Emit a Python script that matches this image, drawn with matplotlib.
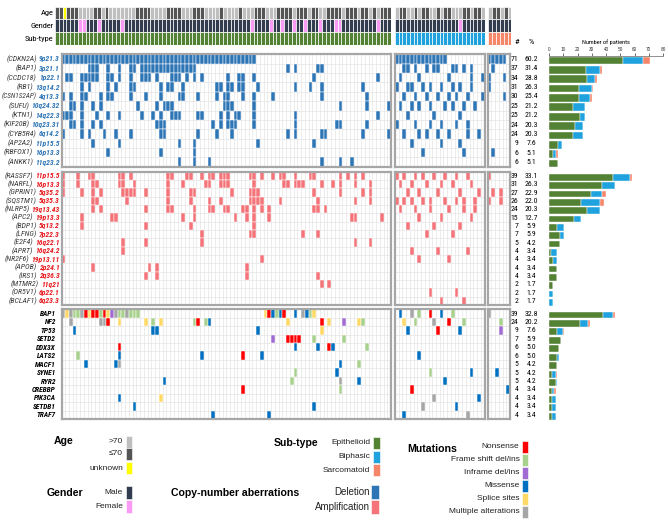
import matplotlib
matplotlib.use('Agg')
import matplotlib.pyplot as plt
from matplotlib import font_manager
from matplotlib.patches import Rectangle

# ------------------------------------------------------------------ fonts
_fl = font_manager.fontManager.ttflist
_names = {f.name for f in _fl}
SANS = 'Liberation Sans'
NARROW_KW = None
for cand in ['Liberation Sans Narrow', 'Arial Narrow', 'DejaVu Sans Condensed',
             'Roboto Condensed', 'Noto Sans Condensed', 'Open Sans Condensed']:
    if cand in _names:
        NARROW_KW = dict(family=cand)
        break
if NARROW_KW is None:
    for fam in ['Noto Sans', 'Open Sans', 'DejaVu Sans', 'Roboto']:
        if any(f.name == fam and str(f.stretch) in ('condensed', 'semi-condensed', '75', '87')
               for f in _fl):
            NARROW_KW = dict(family=fam, fontstretch='condensed')
            break
NSCALE = 1.0
if NARROW_KW is None:
    NARROW_KW = dict(family=SANS)
    NSCALE = 0.86
plt.rcParams['font.family'] = [SANS, 'DejaVu Sans']


def nk(size, **kw):
    d = dict(NARROW_KW)
    d['fontsize'] = size * NSCALE
    d.update(kw)
    return d


# ------------------------------------------------------------------ data
groups = ['Epithelioid', 'Biphasic', 'Sarcomatoid']
n_patients = [88, 24, 6]

# Age: D = <=70, L = >70, U = unknown
age_epi = ("DDUDDDLLLL" "DDLDLLLLLL" "LDDDDLLLLD" "DDDLLLDDDL" "LLLDLLLLDL"
           "LLDDDLLLDD" "DDLDDDLDDL" "LDDDDLDDDL" "DDLDLDDD")
age_bip = "LDDLLDLDDLLDLDDLLLDDLDDL"
age_sar = "LDDLDL"
female_epi = [6, 7, 11, 17, 51, 56, 59, 62, 65, 69, 73, 74, 84]
female_bip = [17]
female_sar = []

# Copy-number deletions
del_genes = ['CDKN2A', 'BAP1', 'CCDC18', 'RB1', 'CSN1S2AP', 'SUFU', 'KTN1', 'KIF20B',
             'CYB5R4', 'AP2A2', 'RBFOX1', 'ANKK1']
del_bands = ['9p21.3', '3p21.1', '1p22.1', '13q14.2', '4q13.3', '10q24.32', '14q22.3',
             '10q23.31', '6q14.2', '11p15.5', '16p13.3', '11q23.2']
del_n = [71, 37, 34, 31, 30, 25, 25, 24, 24, 9, 6, 6]
del_pct = ['60.2', '31.4', '28.8', '26.3', '25.4', '21.2', '21.2', '20.3', '20.3', '7.6', '5.1', '5.1']
del_epi = [
    list(range(0, 52)),
    [7, 8, 9, 12, 15, 18, 19] + list(range(21, 36)) + [60, 62, 68, 69],
    [1, 2, 5, 6, 7, 8, 9, 12, 13, 15, 18, 21, 22, 23, 25, 29, 30, 31, 33, 35, 37, 44, 47, 48, 51, 67, 84],
    [5, 7, 12, 14, 18, 19, 26, 28, 29, 32, 41, 42, 44, 45, 47, 48, 52, 62, 66, 69, 80],
    [0, 2, 5, 6, 10, 12, 13, 18, 22, 26, 31, 32, 36, 41, 43, 44, 48, 51, 56, 69, 81],
    [2, 3, 5, 8, 10, 20, 25, 27, 28, 29, 43, 44, 45, 51, 74, 81, 87],
    [0, 1, 2, 5, 9, 12, 15, 21, 24, 26, 29, 30, 31, 36, 37, 42, 44, 46, 47, 51, 62, 84],
    [2, 3, 5, 8, 10, 25, 26, 27, 40, 42, 44, 45, 46, 51, 62, 73, 74, 81],
    [0, 5, 7, 11, 14, 18, 26, 27, 36, 41, 45, 60, 62, 69, 70, 80, 87],
    [8, 15, 31, 35, 52, 67],
    [12, 26, 35],
    [31, 35, 39, 69, 74, 77],
]
del_bip = [
    list(range(0, 14)),
    [2, 3, 5, 8, 10, 11, 15, 16, 18, 20],
    [1, 6, 14, 20, 23],
    [0, 3, 4, 7, 9, 12, 15, 17, 20],
    [2, 5, 8, 11, 14, 16, 19, 23],
    [1, 4, 6, 9, 13, 15, 18, 21],
    [3, 10, 17],
    [0, 5, 9, 12, 16, 19],
    [2, 6, 8, 11, 14, 19, 22],
    [4, 12, 17],
    [7, 18],
    [],
]
del_sar = [[0, 1, 2, 3, 4], [1], [0, 4], [0], [4], [], [], [], [], [], [1], []]

# Copy-number amplifications
amp_genes = ['RASSF7', 'NARFL', 'GPRIN1', 'SQSTM1', 'NLRP5', 'APC2', 'BDP1', 'LFNG', 'E2F4',
             'APRT', 'NR2F6', 'APOB', 'IRS1', 'MTMR2', 'OR5V1', 'BCLAF1']
amp_bands = ['11p15.5', '16p13.3', '5q35.2', '5q35.3', '19q13.43', '19p13.3', '5q13.2', '7p22.3',
             '16q22.1', '16q24.2', '19p13.11', '2p24.1', '2q36.3', '11q21', '6p22.1', '6q23.3']
amp_n = [39, 31, 27, 26, 24, 15, 7, 7, 5, 4, 4, 4, 4, 2, 2, 2]
amp_pct = ['33.1', '26.3', '22.9', '22.0', '20.3', '12.7', '5.9', '5.9', '4.2', '3.4', '3.4',
           '3.4', '3.4', '1.7', '1.7', '1.7']
amp_epi = [
    [0, 4, 7, 8, 15, 16, 18, 28, 29, 33, 34, 37, 39, 40, 42, 43, 44, 50, 51, 53, 56, 58, 59, 62, 66, 67, 74, 76, 78, 80],
    [0, 4, 8, 9, 15, 16, 19, 28, 32, 38, 39, 42, 43, 44, 51, 59, 60, 62, 63, 64, 69, 72, 74, 78, 82],
    [0, 5, 8, 10, 16, 17, 18, 19, 22, 28, 34, 35, 45, 50, 51, 52, 67, 74, 80, 82],
    [8, 9, 17, 28, 34, 39, 42, 50, 51, 52, 53, 58, 68, 78, 82],
    [8, 10, 22, 28, 29, 35, 39, 40, 43, 44, 48, 49, 51, 53, 55, 67, 68, 70],
    [5, 13, 14, 32, 35, 46, 49, 51, 55, 77, 78, 85],
    [5, 22, 34, 51],
    [37, 50, 51, 64, 68],
    [16, 22, 37, 78, 82],
    [16],
    [0, 53],
    [8, 23, 25, 49],
    [22, 25, 49, 68],
    [69, 71],
    [],
    [],
]
amp_bip = [
    [0, 2, 5, 7, 10, 13, 16, 19],
    [1, 4, 8, 12, 15, 20],
    [3, 6, 11, 17, 22],
    [0, 2, 4, 7, 9, 13, 16, 18, 21],
    [1, 5, 9, 14, 18, 21],
    [6, 12, 20],
    [3, 10, 17],
    [8, 15],
    [],
    [4, 11, 19],
    [6, 14],
    [],
    [],
    [],
    [9, 16],
    [12, 18],
]
amp_sar = [[0], [], [1, 3], [0, 3], [], [], [], [], [], [], [], [], [], [], [], []]

# Mutations: N nonsense, F frame shift, I inframe, M missense, S splice, X multiple
mut_genes = ['BAP1', 'NF2', 'TP53', 'SETD2', 'DDX3X', 'LATS2', 'MACF1', 'SYNE1', 'RYR2',
             'CREBBP', 'PIK3CA', 'SETDB1', 'TRAF7']
mut_n = [39, 24, 9, 7, 6, 6, 5, 5, 5, 4, 4, 4, 4]
mut_pct = ['32.8', '20.2', '7.6', '5.9', '5.0', '5.0', '4.2', '4.2', '4.2', '3.4', '3.4', '3.4', '3.4']
mut_epi = [
    list(zip(range(21), "XSXFFXNSNNFNSIXFFXFFF")) +
    [(54, 'S'), (55, 'N'), (56, 'M'), (57, 'F'), (58, 'M'), (59, 'N'), (62, 'M'), (64, 'X'),
     (65, 'M'), (66, 'F'), (67, 'S')],
    [(2, 'X'), (10, 'X'), (11, 'X'), (12, 'N'), (15, 'S'), (22, 'S'), (24, 'F'), (26, 'S'),
     (35, 'F'), (36, 'N'), (38, 'F'), (39, 'M'), (60, 'S'), (69, 'N'), (71, 'S'), (75, 'I'),
     (79, 'S'), (80, 'F')],
    [(3, 'M'), (24, 'M'), (25, 'M'), (52, 'M'), (69, 'S')],
    [(56, 'I'), (60, 'N'), (61, 'N'), (62, 'N'), (63, 'N'), (67, 'F'), (75, 'F')],
    [(15, 'N'), (62, 'M'), (68, 'M'), (71, 'N'), (72, 'M'), (81, 'F')],
    [(4, 'F'), (15, 'M'), (37, 'M'), (48, 'N'), (53, 'M')],
    [(6, 'M'), (14, 'M'), (15, 'X'), (74, 'M'), (79, 'F')],
    [(62, 'F'), (73, 'M')],
    [(27, 'M'), (61, 'F'), (74, 'X'), (79, 'M')],
    [(48, 'N'), (74, 'F')],
    [(15, 'M'), (26, 'S')],
    [(19, 'M'), (67, 'M')],
    [(40, 'M'), (55, 'M')],
]
mut_bip = [
    [(1, 'M'), (4, 'X'), (6, 'F'), (9, 'N'), (12, 'M'), (15, 'F')],
    [(2, 'S'), (5, 'F'), (10, 'X'), (14, 'N'), (18, 'F')],
    [(3, 'M'), (11, 'N'), (17, 'M')],
    [], [],
    [(6, 'M')],
    [],
    [(9, 'F'), (20, 'M')],
    [(13, 'M')],
    [(4, 'N')],
    [(10, 'X'), (22, 'M')],
    [(7, 'X'), (16, 'M')],
    [(2, 'M'), (19, 'X')],
]
mut_sar = [[(0, 'X')], [(3, 'F')], [(3, 'I')], [], [], [], [], [(2, 'M')], [], [(5, 'M')], [], [], []]

# ------------------------------------------------------------------ style
C_AGE = {'L': '#BFBFBF', 'D': '#555555', 'U': '#FFFF00'}
C_MALE, C_FEMALE = '#323E50', '#F99BF4'
C_SUB = ['#548235', '#1FA2DE', '#F6866A']
C_DEL, C_AMP = '#2E75B6', '#F47479'
C_MUT = {'N': '#FF0000', 'F': '#A9D18E', 'I': '#A06BD3', 'M': '#0070C0', 'S': '#FFD966', 'X': '#A6A6A6'}
BOX = '#A6A6A6'
GRID = '#E4E4E4'

W, H = 668, 522
fig = plt.figure(figsize=(W / 100, H / 100), dpi=100)


def add_ax(x0, y0, x1, y1):
    ax = fig.add_axes([x0 / W, 1 - y1 / H, (x1 - x0) / W, (y1 - y0) / H])
    ax.set_xticks([])
    ax.set_yticks([])
    return ax


def fy(y):
    return 1 - y / H


HEAD_Y = (6.5, 45.0)
HEAD_X = [(55.0, 391.0), (395.0, 484.5), (488.0, 511.5)]
MAT_X = [(61.5, 391.0), (395.0, 484.5), (487.5, 510.0)]
BLOCK_Y = [(54.3, 166.7), (171.7, 305.0), (309.3, 419.0)]
BAR_X = (549.0, 663.0)
BAR_MAX = [80.0, 53.7, 67.2]

renderer = fig.canvas.get_renderer()

# ------------------------------------------------------------------ header
ages = [age_epi, age_bip, age_sar]
females = [female_epi, female_bip, female_sar]
for g in range(3):
    n = n_patients[g]
    ax = add_ax(HEAD_X[g][0], HEAD_Y[0], HEAD_X[g][1], HEAD_Y[1])
    ax.set_xlim(0, n)
    ax.set_ylim(3, 0)
    for s in ax.spines.values():
        s.set_visible(False)
    cols = list(range(n))
    ax.bar(cols, 1, width=1, bottom=0, align='edge',
           color=[C_AGE[a] for a in ages[g]], edgecolor='white', linewidth=0.5)
    ax.bar(cols, 1, width=1, bottom=1, align='edge',
           color=[C_FEMALE if c in females[g] else C_MALE for c in cols],
           edgecolor='white', linewidth=0.5)
    ax.bar(cols, 1, width=1, bottom=2, align='edge', color=C_SUB[g],
           edgecolor='white', linewidth=0.5)

for i, lab in enumerate(['Age', 'Gender', 'Sub-type']):
    yc = HEAD_Y[0] + (HEAD_Y[1] - HEAD_Y[0]) * (i + 0.5) / 3
    fig.text(53.5 / W, fy(yc), lab, ha='right', va='center', **nk(6.0))

fig.text(516.5 / W, fy(45), '#', ha='center', va='bottom', **nk(6.0))
fig.text(531.5 / W, fy(45), '%', ha='center', va='bottom', **nk(6.0))

# ------------------------------------------------------------------ matrix blocks
blocks = [
    dict(genes=del_genes, n=del_n, pct=del_pct, data=[del_epi, del_bip, del_sar], kind='del'),
    dict(genes=amp_genes, n=amp_n, pct=amp_pct, data=[amp_epi, amp_bip, amp_sar], kind='amp'),
    dict(genes=mut_genes, n=mut_n, pct=mut_pct, data=[mut_epi, mut_bip, mut_sar], kind='mut'),
]

for b, blk in enumerate(blocks):
    y0, y1 = BLOCK_Y[b]
    nr = len(blk['genes'])
    rh = (y1 - y0) / nr
    for g in range(3):
        n = n_patients[g]
        ax = add_ax(MAT_X[g][0], y0, MAT_X[g][1], y1)
        ax.set_xlim(0, n)
        ax.set_ylim(nr, 0)
        ax.vlines(range(1, n), 0, nr, color=GRID, lw=0.5, zorder=1)
        ax.hlines(range(1, nr), 0, n, color=GRID, lw=0.5, zorder=1)
        for s in ax.spines.values():
            s.set_color(BOX)
            s.set_linewidth(1.6)
        for r, row in enumerate(blk['data'][g]):
            if not row:
                continue
            if blk['kind'] == 'mut':
                cols = [c for c, t in row]
                colors = [C_MUT[t] for c, t in row]
            else:
                cols = row
                colors = C_DEL if blk['kind'] == 'del' else C_AMP
            ax.bar(cols, 1, width=1, bottom=r, align='edge', color=colors,
                   edgecolor='white', linewidth=0.35, zorder=2)

    # row labels and counts
    for r, gene in enumerate(blk['genes']):
        yc = y0 + rh * (r + 0.5)
        if blk['kind'] == 'mut':
            fig.text(56 / W, fy(yc), gene, ha='right', va='center',
                     **nk(5.3, fontweight='bold', fontstyle='italic'))
        else:
            bands = del_bands if blk['kind'] == 'del' else amp_bands
            bcol = '#2E75B6' if blk['kind'] == 'del' else '#E8191E'
            t = fig.text(59.5 / W, fy(yc), bands[r], ha='right', va='center',
                         **nk(5.5, fontweight='bold', fontstyle='italic', color=bcol))
            bb = t.get_window_extent(renderer)
            gt = fig.text((bb.x0 - 2.0) / W, fy(yc), '(' + gene + ')', ha='right', va='center',
                          **nk(5.7, fontstyle='italic', color='#3A3A3A'))
            size = gt.get_fontsize()
            while gt.get_window_extent(renderer).x0 < 1.5 and size > 3:
                size -= 0.1
                gt.set_fontsize(size)
        fig.text(518.5 / W, fy(yc), str(blk['n'][r]), ha='right', va='center', **nk(5.6))
        fig.text(531.5 / W, fy(yc), blk['pct'][r], ha='center', va='center', **nk(5.6))

    # stacked bars (number of patients per sub-type)
    bax = add_ax(BAR_X[0], y0 + 1.5, BAR_X[1], y1 + 1.5)
    bax.set_xlim(0, BAR_MAX[b])
    bax.set_ylim(nr, 0)
    ys = [r + 0.5 for r in range(nr)]
    left = [0] * nr
    for g in range(3):
        vals = [len(row) for row in blk['data'][g]]
        bax.barh(ys, vals, height=0.82, left=left, color=C_SUB[g], edgecolor='white',
                 linewidth=0.3)
        left = [a + v for a, v in zip(left, vals)]
    for s in bax.spines.values():
        s.set_visible(False)
    if b == 0:
        bax.spines['top'].set_visible(True)
        bax.spines['top'].set_color('#808080')
        bax.spines['top'].set_linewidth(0.6)
        bax.xaxis.set_ticks_position('top')
        bax.set_xticks(range(0, 81, 10))
        bax.tick_params(axis='x', labelsize=3.4, length=2, width=0.5, pad=1,
                        colors='#333333')

fig.text(606 / W, fy(41.7), 'Number of patients', ha='center', va='center', **nk(4.6))

# ------------------------------------------------------------------ legends
def swatch(x0, y0, x1, y1, color):
    fig.patches.append(Rectangle((x0 / W, fy(y1)), (x1 - x0) / W, (y1 - y0) / H,
                                 transform=fig.transFigure, facecolor=color,
                                 edgecolor='white', linewidth=0.4))


def leg_label(x, y, s, size=6.0):
    fig.text(x / W, fy(y), s, ha='right', va='center', fontsize=size, family=SANS,
             color='#222222')


def leg_title(x, y, s):
    fig.text(x / W, fy(y), s, ha='center', va='center', fontsize=7.6, fontweight='bold',
             family=SANS)


leg_title(64, 441, 'Age')
for lab, key, yc in [('>70', 'L', 441.5), ('\u226470', 'D', 453.5), ('unknown', 'U', 468)]:
    leg_label(123, yc, lab)
    swatch(125.5, yc - 6, 131.5, yc + 6, C_AGE[key])

leg_title(65, 492.5, 'Gender')
for lab, col, yc in [('Male', C_MALE, 492.5), ('Female', C_FEMALE, 506.5)]:
    leg_label(123, yc, lab)
    swatch(125.5, yc - 6.5, 131.5, yc + 6.5, col)

leg_title(296, 443, 'Sub-type')
for lab, col, yc in [('Epithelioid', C_SUB[0], 443), ('Biphasic', C_SUB[1], 456.5),
                     ('Sarcomatoid', C_SUB[2], 470)]:
    leg_label(370.5, yc, lab)
    swatch(373, yc - 6, 380, yc + 6, col)

leg_title(235, 492.5, 'Copy-number aberrations')
for lab, col, yc in [('Deletion', C_DEL, 492), ('Amplification', C_AMP, 507)]:
    leg_label(369.5, yc, lab, size=7.0)
    swatch(371.5, yc - 7, 379, yc + 7, col)

leg_title(432, 449, 'Mutations')
for lab, key, yc in [('Nonsense', 'N', 447), ('Frame shift del/ins', 'F', 459.5),
                     ('Inframe del/ins', 'I', 472.5), ('Missense', 'M', 485.5),
                     ('Splice sites', 'S', 498.5), ('Multiple alterations', 'X', 511.5)]:
    leg_label(519.5, yc, lab)
    swatch(521.5, yc - 6, 528, yc + 6, C_MUT[key])

fig.savefig('out.png', dpi=100)
